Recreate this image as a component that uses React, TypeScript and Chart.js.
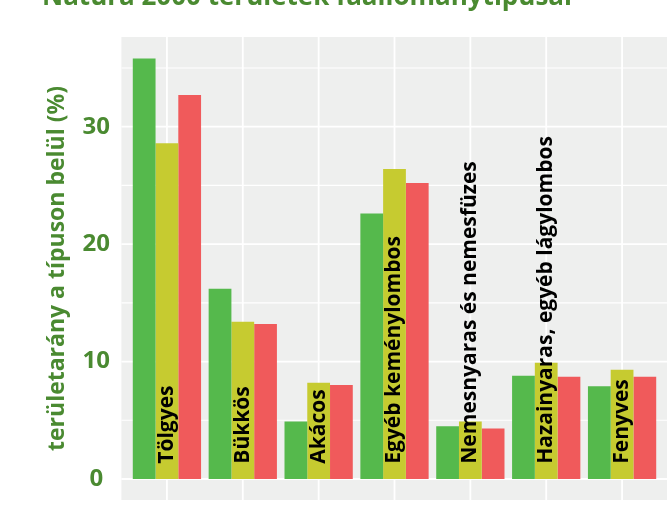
import React, { useEffect, useRef } from "react";
import { Chart, registerables } from "chart.js";

Chart.register(...registerables);

const CATEGORIES = [
  "Tölgyes",
  "Bükkös",
  "Akácos",
  "Egyéb keménylombos",
  "Nemesnyaras és nemesfüzes",
  "Hazainyaras, egyéb lágylombos",
  "Fenyves",
];
const SERIES_GREEN = [35.8, 16.2, 4.9, 22.6, 4.5, 8.8, 7.9];
const SERIES_YELLOW = [28.6, 13.4, 8.2, 26.4, 4.9, 9.9, 9.3];
const SERIES_RED = [32.7, 13.2, 8.0, 25.2, 4.3, 8.7, 8.7];
const Y_TICKS = [0, 10, 20, 30];
const Y_MINOR = [5, 15, 25, 35];
const TITLE = "Natura 2000 területek faállománytípusai";
const Y_TITLE = "területarány a típuson belül (%)";
const LABEL_VALUE = 1.3;

const GREEN = "#55b94c";
const YELLOW = "#c6cb30";
const RED = "#f05a5b";
const TEXT_GREEN = "#4a8a31";
const PANEL = "#eeefee";
const FONT = "'Open Sans', 'DejaVu Sans', sans-serif";

const panelPlugin = {
  id: "panelPlugin",
  beforeDatasetsDraw(chart: any) {
    const ctx = chart.ctx;
    const x = chart.scales.x;
    const y = chart.scales.y;
    const step = x.getPixelForValue(1) - x.getPixelForValue(0);
    const left = x.getPixelForValue(0) - 0.6 * step;
    const right = x.getPixelForValue(CATEGORIES.length - 1) + 0.6 * step;
    const top = chart.chartArea.top;
    const bottom = chart.chartArea.bottom;
    ctx.save();
    ctx.fillStyle = PANEL;
    ctx.fillRect(left, top, right - left, bottom - top);
    ctx.strokeStyle = "#ffffff";
    ctx.lineWidth = 1.2;
    Y_MINOR.forEach((v) => {
      const py = y.getPixelForValue(v);
      ctx.beginPath();
      ctx.moveTo(left, py);
      ctx.lineTo(right, py);
      ctx.stroke();
    });
    ctx.lineWidth = 1.8;
    Y_TICKS.forEach((v) => {
      const py = y.getPixelForValue(v);
      ctx.beginPath();
      ctx.moveTo(left, py);
      ctx.lineTo(right, py);
      ctx.stroke();
    });
    CATEGORIES.forEach((_, i) => {
      const px = x.getPixelForValue(i);
      ctx.beginPath();
      ctx.moveTo(px, top);
      ctx.lineTo(px, bottom);
      ctx.stroke();
    });
    ctx.restore();
  },
  afterDatasetsDraw(chart: any) {
    const ctx = chart.ctx;
    const x = chart.scales.x;
    const y = chart.scales.y;
    ctx.save();
    ctx.fillStyle = "#000000";
    ctx.font = `bold 21px ${FONT}`;
    ctx.textAlign = "left";
    ctx.textBaseline = "middle";
    CATEGORIES.forEach((c, i) => {
      const px = x.getPixelForValue(i);
      const py = y.getPixelForValue(LABEL_VALUE);
      ctx.save();
      ctx.translate(px, py);
      ctx.rotate(-Math.PI / 2);
      ctx.fillText(c, 0, 0);
      ctx.restore();
    });
    ctx.restore();
  },
  afterDraw(chart: any) {
    const ctx = chart.ctx;
    const ca = chart.chartArea;
    ctx.save();
    ctx.fillStyle = TEXT_GREEN;
    ctx.font = `bold 23px ${FONT}`;
    ctx.textAlign = "center";
    ctx.textBaseline = "middle";
    ctx.translate(57, (ca.top + ca.bottom) / 2);
    ctx.rotate(-Math.PI / 2);
    ctx.fillText(Y_TITLE, 0, 0);
    ctx.restore();

    ctx.save();
    ctx.fillStyle = TEXT_GREEN;
    ctx.font = `bold 26px ${FONT}`;
    ctx.textAlign = "left";
    ctx.textBaseline = "alphabetic";
    ctx.fillText(TITLE, 42, 5);
    ctx.restore();
  },
};

export default function App() {
  const canvasRef = useRef<HTMLCanvasElement | null>(null);

  useEffect(() => {
    document.body.style.margin = "0";
    const canvas = canvasRef.current;
    if (!canvas) return;
    const chart = new Chart(canvas, {
      type: "bar",
      data: {
        labels: CATEGORIES,
        datasets: [
          { data: SERIES_GREEN, backgroundColor: GREEN, borderWidth: 0 },
          { data: SERIES_YELLOW, backgroundColor: YELLOW, borderWidth: 0 },
          { data: SERIES_RED, backgroundColor: RED, borderWidth: 0 },
        ],
      },
      options: {
        responsive: false,
        animation: false,
        maintainAspectRatio: false,
        layout: { padding: { top: 37, bottom: 17, left: 0, right: 7 } },
        datasets: {
          bar: { categoryPercentage: 0.9, barPercentage: 1.0 },
        },
        plugins: {
          legend: { display: false },
          title: { display: false },
          tooltip: { enabled: false },
        },
        scales: {
          x: {
            type: "category",
            display: false,
            offset: true,
            grid: { display: false },
          },
          y: {
            type: "linear",
            min: -1.79,
            max: 37.64,
            border: { display: false },
            grid: { display: false, drawTicks: false },
            afterBuildTicks: (scale: any) => {
              scale.ticks = Y_TICKS.map((v) => ({ value: v }));
            },
            afterFit: (scale: any) => {
              scale.width = 129;
              scale.paddingTop = 0;
              scale.paddingBottom = 0;
            },
            ticks: {
              padding: 19,
              crossAlign: "center",
              color: TEXT_GREEN,
              font: { family: FONT, size: 24, weight: "bold" },
            },
          },
        },
      },
      plugins: [panelPlugin],
    } as any);
    return () => chart.destroy();
  }, []);

  return (
    <div style={{ position: "absolute", left: 0, top: 0, width: 667, height: 517 }}>
      <canvas ref={canvasRef} width={667} height={517} style={{ display: "block" }} />
    </div>
  );
}
